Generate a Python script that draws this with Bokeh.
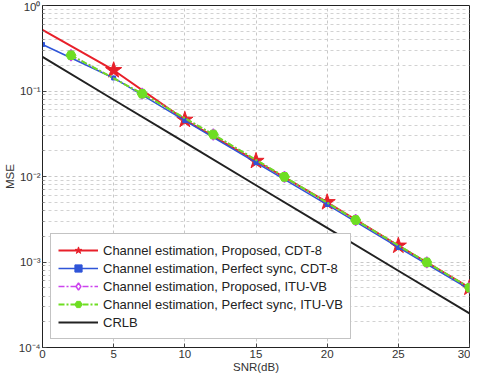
from bokeh.plotting import figure
from bokeh.models import FixedTicker, Legend, LegendItem, Range1d
from bokeh.embed import file_html
from bokeh.resources import INLINE

# ---- data ----
snr_cdt = [0, 5, 10, 15, 20, 25, 30]
mse_prop_cdt = [0.52, 0.175, 0.046, 0.0152, 0.005, 0.00155, 0.0005]
mse_perf_cdt = [0.35, 0.142, 0.045, 0.0145, 0.0047, 0.00148, 0.00048]

snr_itu = [2, 7, 12, 17, 22, 27, 30]
mse_prop_itu = [0.262, 0.093, 0.031, 0.0099, 0.0031, 0.00099, 0.0005]
mse_perf_itu = [0.262, 0.093, 0.031, 0.0099, 0.0031, 0.00099, 0.0005]

snr_crlb = [0, 5, 10, 15, 20, 25, 30]
mse_crlb = [0.25, 0.079, 0.025, 0.0079, 0.0025, 0.00079, 0.00025]

x_ticks = [0, 5, 10, 15, 20, 25, 30]
y_ticks = [1e-4, 1e-3, 1e-2, 1e-1, 1]
y_tick_labels = ["10\u207b\u2074", "10\u207b\u00b3", "10\u207b\u00b2", "10\u207b\u00b9", "10\u2070"]

labels = [
    "Channel estimation, Proposed, CDT-8",
    "Channel estimation, Perfect sync, CDT-8",
    "Channel estimation, Proposed, ITU-VB",
    "Channel estimation, Perfect sync, ITU-VB",
    "CRLB",
]

FONT = "Liberation Sans"

p = figure(width=470, height=375, y_axis_type="log",
           x_range=Range1d(0, 30), y_range=Range1d(1e-4, 1),
           output_backend="svg", toolbar_location=None,
           min_border_left=30, min_border_right=1,
           min_border_top=5, min_border_bottom=26)
p.background_fill_color = "white"
p.border_fill_color = "white"
p.outline_line_color = "#222222"
p.outline_line_width = 1
p.outline_line_alpha = 1

minor = []
for e in range(-4, 0):
    for m in range(2, 10):
        minor.append(m * 10.0 ** e)

p.xaxis.ticker = FixedTicker(ticks=x_ticks)
p.yaxis.ticker = FixedTicker(ticks=y_ticks, minor_ticks=minor)
p.yaxis.major_label_overrides = {t: l for t, l in zip(y_ticks, y_tick_labels)}

for ax in (p.xaxis[0], p.yaxis[0]):
    ax.major_tick_in = 4
    ax.major_tick_out = 0
    ax.minor_tick_in = 2
    ax.minor_tick_out = 0
    ax.axis_line_color = "#222222"
    ax.major_tick_line_color = "#444444"
    ax.minor_tick_line_color = "#888888"
    ax.major_label_text_font = FONT
    ax.major_label_text_font_size = "11.5px"
    ax.major_label_text_color = "#333333"
    ax.axis_label_text_font = FONT
    ax.axis_label_text_font_size = "11.5px"
    ax.axis_label_text_font_style = "normal"
    ax.axis_label_text_color = "#333333"

p.xaxis.axis_label = "SNR(dB)"
p.yaxis.axis_label = "MSE"
p.xaxis.major_label_standoff = 2
p.xaxis.axis_label_standoff = 0
p.yaxis.major_label_standoff = 2
p.yaxis.axis_label_standoff = 0

p.xgrid.grid_line_color = "#c8c8c8"
p.xgrid.grid_line_dash = "3 3"
p.ygrid.grid_line_color = "#c8c8c8"
p.ygrid.grid_line_dash = "3 3"
p.ygrid.minor_grid_line_color = "#d2d2d2"
p.ygrid.minor_grid_line_dash = "3 3"

red = "#e8202a"
blue = "#2f55d8"
purple = "#cc44ee"
green = "#6ede22"
black = "#222222"

r1 = p.line(snr_cdt, mse_prop_cdt, color=red, line_width=2)
m1 = p.scatter(snr_cdt[1:], mse_prop_cdt[1:], marker="star", size=17,
               fill_color=red, line_color=red)
r2 = p.line(snr_cdt, mse_perf_cdt, color=blue, line_width=1.5)
m2 = p.scatter(snr_cdt, mse_perf_cdt, marker="square", size=4,
               fill_color=blue, line_color=blue)
r3 = p.line(snr_itu, mse_prop_itu, color=purple, line_width=1.5, line_dash="6 2 2 2")
m3 = p.scatter(snr_itu, mse_prop_itu, marker="diamond", size=11,
               fill_color="white", line_color=purple, line_width=1.5)
r4 = p.line(snr_itu, mse_perf_itu, color=green, line_width=2, line_dash="6 2 2 2")
m4 = p.scatter(snr_itu, mse_perf_itu, marker="hex", size=10,
               fill_color=green, line_color=green)
r5 = p.line(snr_crlb, mse_crlb, color=black, line_width=2)

legend = Legend(items=[
    LegendItem(label=labels[0], renderers=[r1, m1]),
    LegendItem(label=labels[1], renderers=[r2, m2]),
    LegendItem(label=labels[2], renderers=[r3, m3]),
    LegendItem(label=labels[3], renderers=[r4, m4]),
    LegendItem(label=labels[4], renderers=[r5]),
], location=(8, 8))
legend.label_text_font = FONT
legend.label_text_font_size = "13px"
legend.label_text_color = "#222222"
legend.glyph_width = 40
legend.glyph_height = 18
legend.label_height = 18
legend.spacing = 0
legend.padding = 7
legend.margin = 0
legend.label_standoff = 5
legend.border_line_color = "#888888"
legend.border_line_width = 1
legend.background_fill_color = "white"
legend.background_fill_alpha = 1
p.add_layout(legend, "center")

open("out.html", "w").write(file_html(p, INLINE))
